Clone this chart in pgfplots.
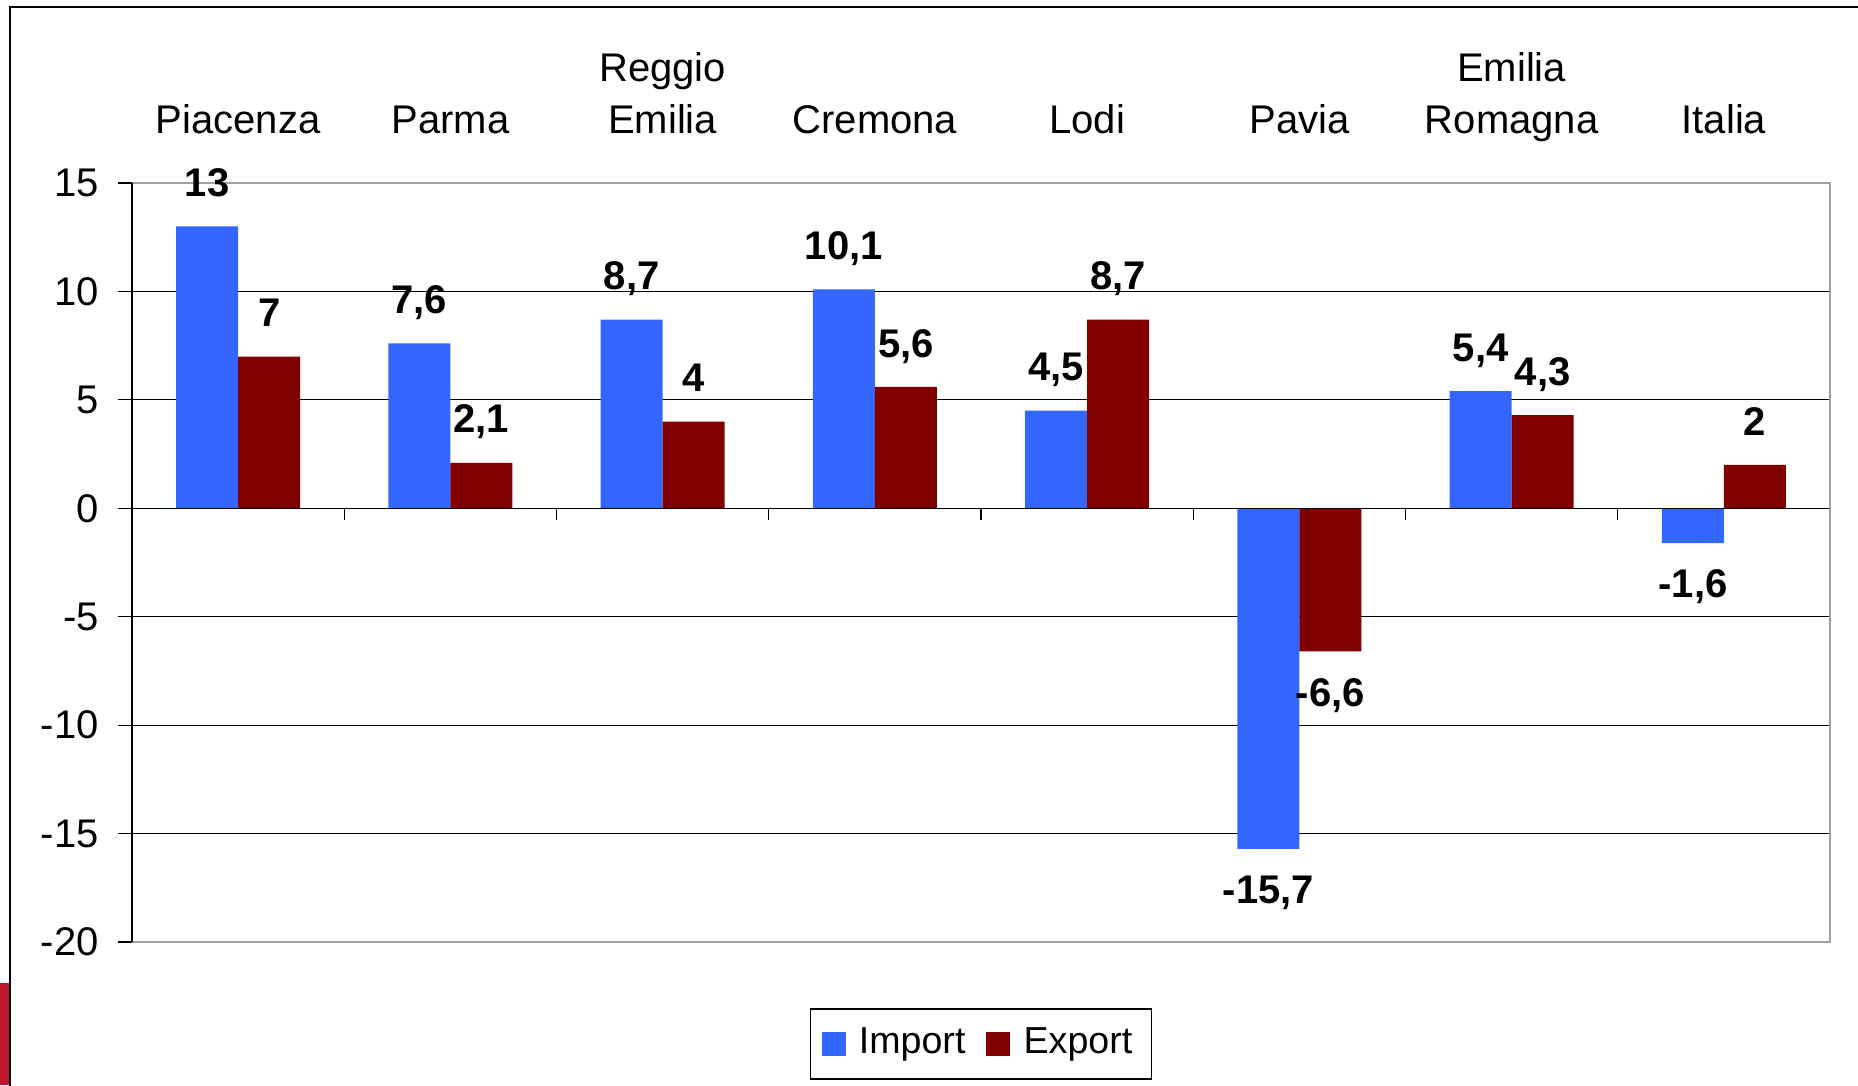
\documentclass[border=0pt]{standalone}
\usepackage{pgfplots}
\pgfplotsset{compat=1.18}
\usepackage{fontspec}
\setmainfont{Liberation Sans}
\definecolor{impc}{RGB}{51,102,255}
\definecolor{expc}{RGB}{128,0,0}
\definecolor{framegray}{RGB}{160,160,160}
\definecolor{cornerred}{RGB}{190,22,46}
\begin{document}
\begin{tikzpicture}
\useasboundingbox (-33pt,-35.75pt) rectangle (431.5pt,235.5pt);
\fill[cornerred] (-33pt,-35.75pt) rectangle (-30.75pt,-10.25pt);
\draw[black, line width=0.3pt] (-30.5pt,-40pt) -- (-30.5pt,233.75pt) -- (440pt,233.75pt);
\begin{axis}[
  at={(0,0)}, anchor=south west,
  scale only axis, width=424.5pt, height=189.75pt,
  clip=false,
  ybar=0pt, bar width=15.5pt,
  xmin=-0.5, xmax=7.5, ymin=-20, ymax=15,
  xtick={0,...,7},
  xticklabels={{Piacenza\strut},{Parma\strut},{Reggio\\Emilia\strut},{Cremona\strut},{Lodi\strut},{Pavia\strut},{Emilia\\Romagna\strut},{Italia\strut}},
  xticklabel pos=upper,
  xtick style={draw=none},
  xticklabel style={align=center, anchor=south, inner sep=0pt, yshift=4.85pt, font=\fontsize{10}{13}\selectfont},
  ytick={-20,-15,...,15},
  ytick pos=left,
  ytick style={black, line width=0.3pt},
  tick align=outside, major tick length=3.5pt,
  yticklabel style={inner sep=0pt, xshift=-4.6pt, font=\fontsize{10}{12}\selectfont},
  /pgf/number format/assume math mode=true,
  ymajorgrids, grid style={black, line width=0.3pt},
  axis line style={draw=none},
  nodes near coords={\pgfmathprintnumber[use comma]{\pgfplotspointmeta}},
  nodes near coords align={vertical},
  visualization depends on={rawy \as \rawy},
  every node near coord/.append style={font=\bfseries\fontsize{10}{12}\selectfont, inner sep=0pt, text depth=0pt, text height=7.2pt, yshift={ifthenelse(\rawy<0,-6.25,7.25)}},
  legend style={at={(0.5,0)}, anchor=center, yshift=-25.5pt, draw=black, line width=0.4pt, legend columns=2, font=\fontsize{9.4}{11.5}\selectfont, inner xsep=2.8pt, inner ysep=2.7pt, /tikz/every even column/.append style={column sep=3.25pt}},
  legend image code/.code={\draw[#1,draw=none] (0pt,-3pt) rectangle (6pt,3pt); \path (7.3pt,0pt);},
]
\addplot[fill=impc, draw=none] coordinates {(0,13) (1,7.6) (2,8.7) (3,10.1) (4,4.5) (5,-15.7) (6,5.4) (7,-1.6)};
\addplot[fill=expc, draw=none] coordinates {(0,7) (1,2.1) (2,4) (3,5.6) (4,8.7) (5,-6.6) (6,4.3) (7,2)};
\legend{Import, Export}
\draw[black, line width=0.3pt] (axis cs:-0.5,0) -- (axis cs:7.5,0);
\pgfplotsinvokeforeach{-0.5,0.5,...,7.5}{\draw[black, line width=0.3pt] (axis cs:#1,0) -- ([yshift=-3pt]axis cs:#1,0);}
\draw[framegray, line width=0.6pt] (rel axis cs:0,1) -- (rel axis cs:1,1) -- (rel axis cs:1,0) -- (rel axis cs:0,0);
\draw[black, line width=0.35pt] (rel axis cs:0,0) -- (rel axis cs:0,1);
\end{axis}
\end{tikzpicture}
\end{document}
